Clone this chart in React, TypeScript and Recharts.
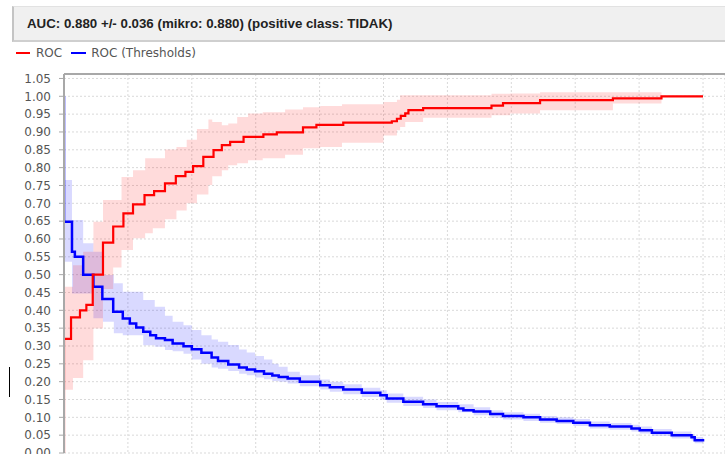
import { ComposedChart, Line, Area, XAxis, YAxis, CartesianGrid, ReferenceLine } from 'recharts';

// ROC curve (mean over folds), step points: false positive rate -> true positive rate
const ROC_FPR = [0, 0, 0.011, 0.025, 0.035, 0.045, 0.061, 0.077, 0.093, 0.108, 0.126, 0.141, 0.158, 0.175, 0.19, 0.202, 0.218, 0.234, 0.247, 0.26, 0.281, 0.312, 0.333, 0.374, 0.395, 0.437, 0.513, 0.521, 0.527, 0.534, 0.539, 0.562, 0.669, 0.687, 0.745, 0.859, 0.935, 1.0];
const ROC_TPR = [0, 0.32, 0.38, 0.4, 0.415, 0.5, 0.59, 0.635, 0.672, 0.697, 0.723, 0.734, 0.756, 0.776, 0.788, 0.804, 0.83, 0.849, 0.863, 0.872, 0.886, 0.893, 0.899, 0.913, 0.92, 0.926, 0.93, 0.937, 0.945, 0.952, 0.961, 0.967, 0.974, 0.981, 0.989, 0.994, 1.0, 1.0];

// ROC +/- std band
const ROC_BAND_FPR = [0, 0.014, 0.03, 0.046, 0.061, 0.077, 0.09, 0.108, 0.127, 0.139, 0.158, 0.176, 0.192, 0.208, 0.226, 0.232, 0.247, 0.257, 0.271, 0.288, 0.311, 0.346, 0.374, 0.401, 0.435, 0.5, 0.521, 0.526, 0.534, 0.562, 0.669, 0.698, 0.745, 0.859, 0.935, 1.0];
const ROC_BAND_LOW = [0.177, 0.21, 0.26, 0.349, 0.46, 0.52, 0.569, 0.602, 0.616, 0.63, 0.655, 0.68, 0.7, 0.725, 0.751, 0.776, 0.793, 0.807, 0.812, 0.821, 0.826, 0.836, 0.854, 0.858, 0.87, 0.89, 0.905, 0.914, 0.928, 0.94, 0.947, 0.952, 0.961, 0.98, 1.0, 1.0];
const ROC_BAND_HIGH = [0.466, 0.526, 0.564, 0.648, 0.709, 0.709, 0.774, 0.793, 0.826, 0.826, 0.851, 0.858, 0.878, 0.908, 0.935, 0.928, 0.919, 0.924, 0.942, 0.952, 0.955, 0.963, 0.969, 0.973, 0.978, 0.984, 0.99, 1.003, 1.003, 1.003, 1.007, 1.008, 1.011, 1.011, 1.0, 1.0];

// ROC (Thresholds)
const THR_FPR = [0, 0, 0.0125, 0.017, 0.03, 0.046, 0.06, 0.077, 0.092, 0.103, 0.113, 0.124, 0.135, 0.144, 0.158, 0.17, 0.187, 0.2, 0.215, 0.231, 0.241, 0.257, 0.274, 0.286, 0.299, 0.313, 0.326, 0.336, 0.35, 0.369, 0.401, 0.416, 0.437, 0.466, 0.495, 0.505, 0.531, 0.562, 0.583, 0.617, 0.625, 0.641, 0.667, 0.687, 0.719, 0.745, 0.771, 0.797, 0.823, 0.854, 0.888, 0.901, 0.92, 0.951, 0.982, 0.987, 1.0];
const THR_VAL = [1.0, 0.648, 0.564, 0.55, 0.5, 0.466, 0.432, 0.396, 0.377, 0.363, 0.352, 0.34, 0.33, 0.322, 0.317, 0.307, 0.299, 0.291, 0.281, 0.268, 0.258, 0.248, 0.24, 0.234, 0.229, 0.222, 0.217, 0.213, 0.209, 0.2, 0.19, 0.184, 0.178, 0.169, 0.162, 0.153, 0.144, 0.137, 0.131, 0.125, 0.12, 0.116, 0.109, 0.104, 0.1, 0.094, 0.09, 0.085, 0.078, 0.074, 0.069, 0.064, 0.057, 0.05, 0.044, 0.036, 0.032];

const THR_BAND_FPR = [0, 0.0125, 0.03, 0.046, 0.061, 0.078, 0.092, 0.124, 0.142, 0.158, 0.17, 0.187, 0.2, 0.215, 0.231, 0.241, 0.257, 0.274, 0.286, 0.299, 0.313, 0.326, 0.336, 0.35, 0.369, 0.401, 0.416, 0.437, 0.466, 0.495, 0.505, 0.531, 0.562, 0.583, 0.617, 0.641, 0.667, 0.687, 0.719, 0.745, 0.771, 0.797, 0.823, 0.854, 0.888, 0.901, 0.92, 0.951, 0.982, 0.987, 1.0];
const THR_BAND_LOW = [0.536, 0.447, 0.447, 0.378, 0.368, 0.336, 0.33, 0.302, 0.298, 0.289, 0.285, 0.278, 0.262, 0.25, 0.24, 0.236, 0.23, 0.222, 0.218, 0.212, 0.207, 0.202, 0.2, 0.195, 0.187, 0.178, 0.172, 0.165, 0.157, 0.15, 0.141, 0.132, 0.126, 0.12, 0.114, 0.106, 0.099, 0.094, 0.09, 0.085, 0.081, 0.076, 0.069, 0.065, 0.06, 0.055, 0.048, 0.041, 0.035, 0.027, 0.025];
const THR_BAND_HIGH = [0.765, 0.653, 0.588, 0.564, 0.499, 0.476, 0.452, 0.429, 0.41, 0.385, 0.368, 0.358, 0.345, 0.33, 0.318, 0.312, 0.303, 0.29, 0.282, 0.272, 0.262, 0.25, 0.242, 0.228, 0.218, 0.206, 0.2, 0.193, 0.183, 0.176, 0.167, 0.158, 0.15, 0.143, 0.137, 0.128, 0.12, 0.114, 0.11, 0.104, 0.1, 0.095, 0.088, 0.084, 0.079, 0.074, 0.067, 0.06, 0.053, 0.045, 0.04];

const X_TICKS = [0, 0.1, 0.2, 0.3, 0.4, 0.5, 0.6, 0.7, 0.8, 0.9, 1.0];
const Y_TICKS = [0, 0.05, 0.1, 0.15, 0.2, 0.25, 0.3, 0.35, 0.4, 0.45, 0.5, 0.55, 0.6, 0.65, 0.7, 0.75, 0.8, 0.85, 0.9, 0.95, 1.0, 1.05];
const X_MAX = 1.0344;
const Y_MAX = 1.0625;

const TITLE = 'AUC: 0.880 +/- 0.036 (mikro: 0.880) (positive class: TIDAK)';

const rocLine = ROC_FPR.map((x, i) => ({ x, y: ROC_TPR[i] }));
const rocBand = ROC_BAND_FPR.map((x, i) => ({ x, range: [ROC_BAND_LOW[i], ROC_BAND_HIGH[i]] }));
const thrLine = THR_FPR.map((x, i) => ({ x, y: THR_VAL[i] }));
const thrBand = THR_BAND_FPR.map((x, i) => ({ x, range: [THR_BAND_LOW[i], THR_BAND_HIGH[i]] }));

const tickFont = { fontSize: 12, fill: '#555', fontFamily: 'DejaVu Sans' };

// x axis labels fall below the visible crop, so the axis only feeds the vertical grid
const EmptyTick = () => <g />;

export default function App() {
  return (
    <div style={{ position: 'absolute', left: 0, top: 0, width: 725, height: 454, overflow: 'hidden', background: '#fff' }}>
      <div
        style={{
          position: 'absolute',
          left: 12,
          top: 6,
          width: 730,
          height: 36,
          background: '#f0f0f0',
          borderLeft: '2px solid #c4c4c4',
          borderTop: '1px solid #e2e2e2',
          borderBottom: '2px solid #cfcfcf',
          boxSizing: 'border-box',
        }}
      >
        <span
          style={{
            position: 'absolute',
            left: 13,
            top: 9,
            fontFamily: '"Liberation Sans", Arial, sans-serif',
            fontWeight: 'bold',
            fontSize: 13.3,
            color: '#222',
            whiteSpace: 'nowrap',
          }}
        >
          {TITLE}
        </span>
      </div>

      <div style={{ position: 'absolute', left: 16, top: 46, display: 'flex', alignItems: 'center', fontFamily: 'DejaVu Sans', fontSize: 12, color: '#555' }}>
        <span style={{ width: 14, height: 2, background: '#ff0000', display: 'inline-block' }} />
        <span style={{ marginLeft: 6 }}>ROC</span>
        <span style={{ width: 15, height: 2, background: '#0000ff', display: 'inline-block', marginLeft: 9 }} />
        <span style={{ marginLeft: 5 }}>ROC (Thresholds)</span>
      </div>

      <div style={{ position: 'absolute', left: 9, top: 367, width: 1, height: 30, background: '#000' }} />

      <div style={{ position: 'absolute', left: 0, top: 0 }}>
        <ComposedChart width={725} height={484} margin={{ top: 74, right: 0, bottom: 1, left: 0 }}>
          <CartesianGrid stroke="#d9d9d9" strokeDasharray="2 2" />
          <XAxis
            type="number"
            dataKey="x"
            domain={[0, X_MAX]}
            ticks={X_TICKS}
            interval={0}
            allowDataOverflow
            height={30}
            tick={EmptyTick}
            tickLine={false}
            axisLine={false}
          />
          <YAxis
            type="number"
            domain={[0, Y_MAX]}
            ticks={Y_TICKS}
            interval={0}
            allowDataOverflow
            width={64}
            tick={tickFont}
            tickSize={5}
            tickMargin={8}
            axisLine={{ stroke: '#a8a8a8', strokeWidth: 2 }}
            tickLine={{ stroke: '#a8a8a8' }}
            tickFormatter={(v: number) => v.toFixed(2)}
          />
          <ReferenceLine y={Y_MAX} stroke="#a8a8a8" strokeWidth={2} />
          <Area data={thrBand} dataKey="range" type="stepAfter" stroke="none" fill="#0000ff" fillOpacity={0.15} isAnimationActive={false} />
          <Area data={rocBand} dataKey="range" type="stepAfter" stroke="none" fill="#ff0000" fillOpacity={0.14} isAnimationActive={false} />
          <Line data={thrLine} dataKey="y" type="stepAfter" stroke="#0000ff" strokeWidth={2.5} dot={false} activeDot={false} isAnimationActive={false} />
          <Line data={rocLine} dataKey="y" type="stepAfter" stroke="#ff0000" strokeWidth={2.2} dot={false} activeDot={false} isAnimationActive={false} />
        </ComposedChart>
      </div>
    </div>
  );
}
